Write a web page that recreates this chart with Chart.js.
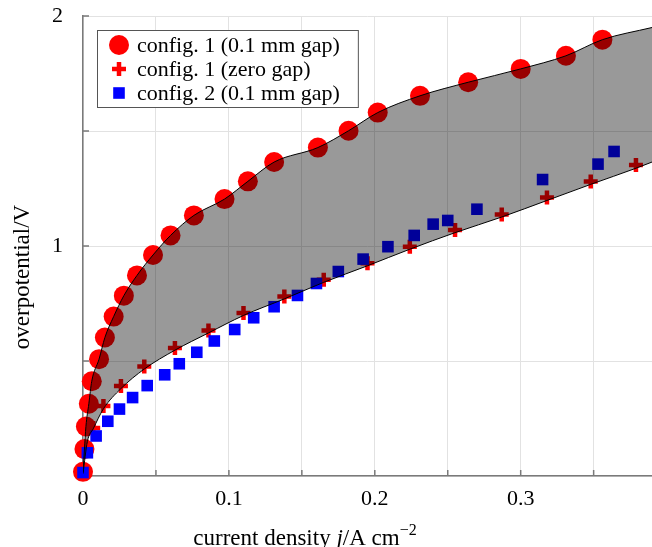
<!DOCTYPE html>
<html>
<head>
<meta charset="utf-8">
<script src="https://cdn.jsdelivr.net/npm/chart.js@4.4.1/dist/chart.umd.min.js"></script>
<style>
  html, body { margin: 0; padding: 0; background: #fff; }
  #wrap { width: 652px; height: 547px; }
</style>
</head>
<body>
<div id="wrap"><canvas id="myChart" width="652" height="547"></canvas></div>
<script>
// config. 1, 0.1 mm gap (red circles)
const circleJ   = [0.000, 0.001, 0.002, 0.004, 0.006, 0.011, 0.015, 0.021, 0.028, 0.037, 0.048, 0.060,
                   0.076, 0.097, 0.113, 0.131, 0.161, 0.182, 0.202, 0.231, 0.264, 0.300, 0.331, 0.356];
const circleEta = [0.018, 0.117, 0.215, 0.314, 0.412, 0.508, 0.602, 0.693, 0.784, 0.872, 0.961, 1.046,
                   1.133, 1.204, 1.281, 1.365, 1.428, 1.501, 1.580, 1.653, 1.712, 1.770, 1.827, 1.897];

// config. 1, zero gap (red crosses)
const crossJ   = [0.007, 0.014, 0.026, 0.042, 0.063, 0.086, 0.110, 0.138, 0.165, 0.195, 0.224, 0.255,
                  0.287, 0.318, 0.348, 0.379];
const crossEta = [0.209, 0.304, 0.391, 0.476, 0.557, 0.633, 0.709, 0.780, 0.853, 0.925, 0.997, 1.070,
                  1.137, 1.211, 1.280, 1.352];

// config. 2, 0.1 mm gap (blue squares)
const squareJ   = [0.000, 0.003, 0.009, 0.017, 0.025, 0.034, 0.044, 0.056, 0.066, 0.078, 0.090, 0.104,
                   0.117, 0.131, 0.147, 0.160, 0.175, 0.192, 0.209, 0.227, 0.240, 0.250, 0.270, 0.315,
                   0.353, 0.364];
const squareEta = [0.015, 0.101, 0.174, 0.238, 0.291, 0.341, 0.393, 0.440, 0.488, 0.538, 0.587, 0.637,
                   0.688, 0.736, 0.785, 0.837, 0.889, 0.943, 0.997, 1.046, 1.095, 1.111, 1.160, 1.289,
                   1.356, 1.411];

// curves bounding the shaded band
const upperJ   = [...circleJ, 0.390];
const upperEta = [...circleEta, 1.950];
const lowerJ   = [0.000, 0.003, 0.007, 0.014, 0.026, 0.042, 0.063, 0.086, 0.110, 0.138, 0.165, 0.195,
                  0.224, 0.255, 0.287, 0.318, 0.348, 0.379, 0.390];
const lowerEta = [0.010, 0.150, 0.205, 0.292, 0.380, 0.465, 0.547, 0.622, 0.698, 0.770, 0.842, 0.914,
                  0.986, 1.058, 1.126, 1.198, 1.268, 1.338, 1.365];

const xTickLabels = ['0', '0.1', '0.2', '0.3'];
const yTickLabels = ['1', '2'];

const FONT = "'Liberation Serif', 'DejaVu Serif', serif";
const zip = (xs, ys) => xs.map((x, i) => ({ x: x, y: ys[i] }));

Chart.defaults.font.family = FONT;
Chart.defaults.font.size = 22;
Chart.defaults.color = '#000';

const decor = {
  id: 'decor',
  beforeDatasetsDraw(chart) {
    const { ctx, chartArea, scales } = chart;
    ctx.save();
    ctx.strokeStyle = '#7a7a7a';
    ctx.lineWidth = 1.5;
    ctx.beginPath();
    scales.x.ticks.forEach(t => {
      if (t.value === 0) return;
      const px = scales.x.getPixelForValue(t.value);
      ctx.moveTo(px, chartArea.bottom);
      ctx.lineTo(px, chartArea.bottom - 6);
    });
    scales.y.ticks.forEach(t => {
      if (t.value === 0) return;
      const py = scales.y.getPixelForValue(t.value);
      ctx.moveTo(chartArea.left, py);
      ctx.lineTo(chartArea.left + 6, py);
    });
    ctx.stroke();
    ctx.restore();
  },
  afterDraw(chart) {
    const { ctx, chartArea } = chart;
    const sets = chart.data.datasets.slice(0, 3);
    ctx.save();

    // legend
    ctx.font = '22px ' + FONT;
    const left = chartArea.left + 14, top = chartArea.top + 14;
    const textX = left + 40;
    const maxW = Math.max(...sets.map(d => ctx.measureText(d.label).width));
    const w = textX - left + maxW + 18, h = 77;
    ctx.fillStyle = '#fff';
    ctx.fillRect(left, top, w, h);
    ctx.strokeStyle = '#555';
    ctx.lineWidth = 1;
    ctx.strokeRect(left + 0.5, top + 0.5, w, h);
    sets.forEach((d, i) => {
      const cy = top + 15 + i * 24;
      const cx = left + 22;
      if (d.pointStyle === 'circle') {
        ctx.fillStyle = d.backgroundColor;
        ctx.beginPath();
        ctx.arc(cx, cy, d.pointRadius, 0, Math.PI * 2);
        ctx.fill();
      } else if (d.pointStyle === 'cross') {
        ctx.strokeStyle = d.borderColor;
        ctx.lineWidth = d.borderWidth;
        ctx.beginPath();
        ctx.moveTo(cx - d.pointRadius, cy); ctx.lineTo(cx + d.pointRadius, cy);
        ctx.moveTo(cx, cy - d.pointRadius); ctx.lineTo(cx, cy + d.pointRadius);
        ctx.stroke();
      } else {
        const s = d.pointRadius * Math.SQRT1_2;
        ctx.fillStyle = d.backgroundColor;
        ctx.fillRect(cx - s, cy - s, 2 * s, 2 * s);
      }
      ctx.fillStyle = '#000';
      ctx.textBaseline = 'middle';
      ctx.textAlign = 'left';
      ctx.fillText(d.label, textX, cy + 1);
    });

    // y axis title
    ctx.save();
    ctx.translate(23, 277);
    ctx.rotate(-Math.PI / 2);
    ctx.textAlign = 'center';
    ctx.textBaseline = 'middle';
    ctx.font = '23px ' + FONT;
    ctx.fillText('overpotential/V', 0, 0);
    ctx.restore();

    // x axis title: current density j/A cm^-2
    const parts = [
      { t: 'current density ', f: '23px ' + FONT, dy: 0 },
      { t: 'j', f: 'italic 23px ' + FONT, dy: 0 },
      { t: '/A cm', f: '23px ' + FONT, dy: 0 },
      { t: '\u22122', f: '16px ' + FONT, dy: -10 }
    ];
    let total = 0;
    parts.forEach(p => { ctx.font = p.f; p.w = ctx.measureText(p.t).width; total += p.w; });
    let x = 305 - total / 2;
    ctx.textAlign = 'left';
    ctx.textBaseline = 'alphabetic';
    parts.forEach(p => { ctx.font = p.f; ctx.fillText(p.t, x, 545 + p.dy); x += p.w; });

    ctx.restore();
  }
};

const ctx = document.getElementById('myChart').getContext('2d');
const myChart = new Chart(ctx, {
  type: 'scatter',
  data: {
    datasets: [{
      label: 'config. 1 (0.1 mm gap)',
      data: zip(circleJ, circleEta),
      pointStyle: 'circle',
      pointRadius: 10,
      backgroundColor: '#ff0000',
      borderWidth: 0,
      clip: false,
      order: 4,
    }, {
      label: 'config. 1 (zero gap)',
      data: zip(crossJ, crossEta),
      pointStyle: 'cross',
      pointRadius: 7,
      borderColor: '#ff0000',
      borderWidth: 4.5,
      clip: false,
      order: 3,
    }, {
      label: 'config. 2 (0.1 mm gap)',
      data: zip(squareJ, squareEta),
      pointStyle: 'rect',
      pointRadius: 8.2,
      backgroundColor: '#0000ff',
      borderWidth: 0,
      clip: false,
      order: 2,
    }, {
      type: 'line',
      label: 'upper',
      data: zip(upperJ, upperEta),
      borderColor: '#000',
      borderWidth: 1,
      pointRadius: 0,
      cubicInterpolationMode: 'monotone',
      fill: '+1',
      backgroundColor: 'rgba(0,0,0,0.4)',
      order: 1,
    }, {
      type: 'line',
      label: 'lower',
      data: zip(lowerJ, lowerEta),
      borderColor: '#000',
      borderWidth: 1,
      pointRadius: 0,
      cubicInterpolationMode: 'monotone',
      fill: false,
      order: 0,
    }]
  },
  options: {
    responsive: false,
    animation: false,
    events: [],
    layout: { padding: { top: 16, right: 0, left: 0, bottom: 0 }, autoPadding: false },
    plugins: { legend: { display: false }, tooltip: { enabled: false } },
    scales: {
      x: {
        type: 'linear',
        min: 0,
        max: 0.39,
        afterFit: (scale) => { scale.height = 71; scale.paddingLeft = 0; scale.paddingRight = 0; },
        ticks: {
          stepSize: 0.05,
          includeBounds: false,
          padding: 10,
          maxRotation: 0,
          autoSkip: false,
          callback: (v) => { const s = String(+v.toFixed(2)); return xTickLabels.includes(s) ? s : ''; }
        },
        grid: { color: '#e2e2e2', lineWidth: 1, drawTicks: false },
        border: { color: '#7a7a7a', width: 1.5 },
      },
      y: {
        type: 'linear',
        min: 0,
        max: 2,
        afterFit: (scale) => { scale.width = 83; scale.paddingTop = 0; scale.paddingBottom = 0; },
        ticks: {
          stepSize: 0.5,
          padding: 20,
          autoSkip: false,
          callback: (v) => { const s = String(+v.toFixed(1)); return yTickLabels.includes(s) ? s : ''; }
        },
        grid: { color: '#e2e2e2', lineWidth: 1, drawTicks: false },
        border: { color: '#7a7a7a', width: 1.5 },
      }
    }
  },
  plugins: [decor]
});
</script>
</body>
</html>
